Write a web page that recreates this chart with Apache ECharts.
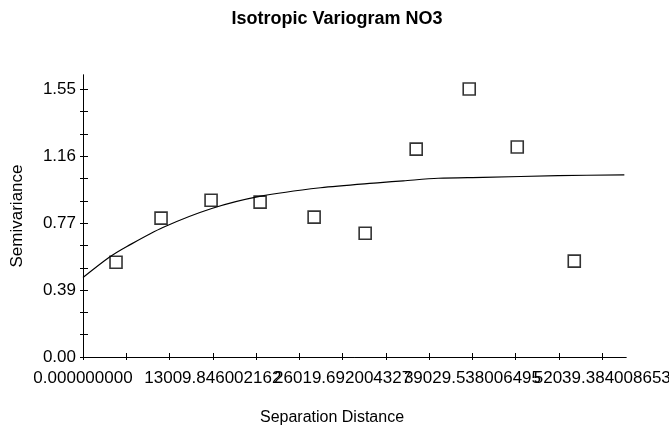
<!DOCTYPE html>
<html>
<head>
<meta charset="utf-8">
<script src="https://cdn.jsdelivr.net/npm/echarts@6/dist/echarts.min.js"></script>
<style>html,body{margin:0;padding:0;background:#fff;}#c{width:669px;height:435px;}</style>
</head>
<body>
<div id="c"></div>
<script>
// Observed semivariance (lag distance, semivariance)
var lagDistance = [3309, 7821, 12835, 17748, 23162, 28276, 33390, 38704, 43517, 49232];
var semivariance = [0.549, 0.804, 0.908, 0.897, 0.810, 0.717, 1.204, 1.552, 1.216, 0.555];
// Model curve
var modelDistance = [0, 2700, 4400, 8000, 12900, 17700, 23800, 29800, 32100, 35600, 40100, 47600, 54250];
var modelValue = [0.46, 0.58, 0.64, 0.75, 0.86, 0.93, 0.98, 1.01, 1.02, 1.035, 1.04, 1.05, 1.055];
// Tick labels
var xTickLabels = ["0.000000000", "13009.846002162", "26019.692004327", "39029.538006495", "52039.384008653"];
var yTickLabels = ["0.00", "0.39", "0.77", "1.16", "1.55"];
var xLabelStep = 13009.846002162;
var yLabelStep = 0.3875;

var xTickValues = [];
for (var i = 0; i <= 12; i++) xTickValues.push(i * xLabelStep / 3);
var xLabelValues = xTickLabels.map(function (s, i) { return i * xLabelStep; });
var xLabelsEven = xLabelValues.filter(function (v, i) { return i % 2 === 0; });
var xLabelsOdd = xLabelValues.filter(function (v, i) { return i % 2 === 1; });
var yTickValues = [];
for (var j = 0; j <= 12; j++) yTickValues.push(j * yLabelStep / 3);
var yLabelValues = yTickLabels.map(function (s, i) { return i * yLabelStep; });

function nearestIdx(vals, v) {
  var best = 0, d = Infinity;
  for (var k = 0; k < vals.length; k++) { var dd = Math.abs(vals[k] - v); if (dd < d) { d = dd; best = k; } }
  return best;
}
function xFmt(v) { return xTickLabels[nearestIdx(xLabelValues, v)]; }
function yFmt(v) { return yTickLabels[nearestIdx(yLabelValues, v)]; }

var FONT = 'Liberation Sans, Arial, sans-serif';
var XMAX = 54416, YMAX = 1.633;
var gridBox = {left: 83, right: 43, top: 75, bottom: 78, containLabel: false, outerBoundsMode: 'none'};
var labelBase = {show: true, margin: 13, color: '#000', fontFamily: FONT, fontSize: 17,
  hideOverlap: false, showMinLabel: true, showMaxLabel: true};

var chart = echarts.init(document.getElementById('c'), null, {renderer: 'canvas'});
chart.setOption({
  animation: false,
  backgroundColor: '#fff',
  title: [
    {text: 'Isotropic Variogram NO3', left: 332, top: 5, textAlign: 'center',
     textStyle: {fontFamily: FONT, fontSize: 18, fontWeight: 'bold', color: '#000'}},
    {text: 'Separation Distance', left: 327, top: 405, textAlign: 'center',
     textStyle: {fontFamily: FONT, fontSize: 16, fontWeight: 'normal', color: '#000'}}
  ],
  grid: [Object.assign({}, gridBox), Object.assign({}, gridBox)],
  xAxis: [
    {type: 'value', gridIndex: 0, min: 0, max: XMAX, position: 'bottom',
     axisLine: {show: true, onZero: false, lineStyle: {color: '#000', width: 1}},
     axisTick: {show: true, length: 3, customValues: xTickValues, lineStyle: {color: '#000'}},
     axisLabel: Object.assign({}, labelBase, {customValues: xLabelsEven, formatter: xFmt}),
     splitLine: {show: false}},
    {type: 'value', gridIndex: 1, min: 0, max: XMAX, position: 'bottom',
     axisLine: {show: true, onZero: false, lineStyle: {color: '#000', width: 1}},
     axisTick: {show: true, inside: true, length: 4, customValues: xTickValues, lineStyle: {color: '#000', width: 1}},
     axisLabel: Object.assign({}, labelBase, {customValues: xLabelsOdd, formatter: xFmt}),
     splitLine: {show: false}}
  ],
  yAxis: [
    {type: 'value', gridIndex: 0, min: 0, max: YMAX, position: 'left',
     name: 'Semivariance', nameLocation: 'middle', nameGap: 57,
     nameTextStyle: {fontFamily: FONT, fontSize: 17, color: '#000'},
     axisLine: {show: true, onZero: false, lineStyle: {color: '#000', width: 1}},
     axisTick: {show: true, length: 3, customValues: yTickValues, lineStyle: {color: '#000'}},
     axisLabel: Object.assign({}, labelBase, {margin: 7, customValues: yLabelValues, formatter: yFmt}),
     splitLine: {show: false}},
    {type: 'value', gridIndex: 1, min: 0, max: YMAX, position: 'left',
     axisLine: {show: true, onZero: false, lineStyle: {color: '#000', width: 1}},
     axisTick: {show: true, inside: true, length: 5, customValues: yTickValues, lineStyle: {color: '#000', width: 1}},
     axisLabel: {show: false}, splitLine: {show: false}}
  ],
  series: [
    {type: 'line', xAxisIndex: 0, yAxisIndex: 0, smooth: 0.3, symbol: 'none',
     lineStyle: {color: '#000', width: 1.2},
     data: modelDistance.map(function (d, i) { return [d, modelValue[i]]; }), z: 2},
    {type: 'scatter', xAxisIndex: 0, yAxisIndex: 0, symbol: 'rect', symbolSize: 12,
     itemStyle: {color: 'rgba(255,255,255,0)', borderColor: '#000', borderWidth: 1.6},
     data: lagDistance.map(function (d, i) { return [d, semivariance[i]]; }), z: 3},
    {type: 'scatter', xAxisIndex: 1, yAxisIndex: 1, data: [], silent: true}
  ]
});
</script>
</body>
</html>
